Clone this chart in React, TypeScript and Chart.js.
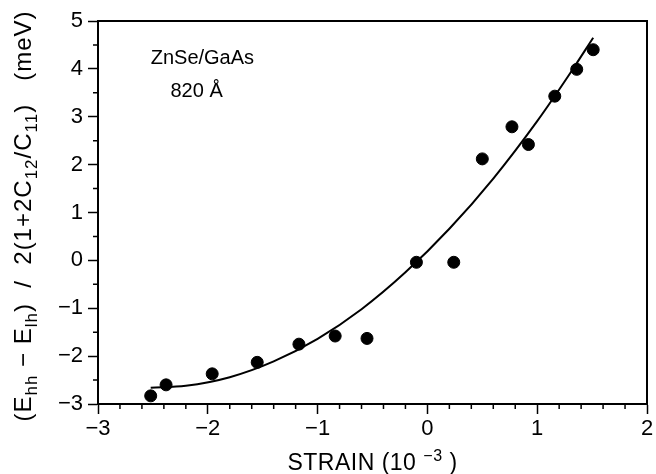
import React, { useEffect, useRef } from 'react';
import { Chart, registerables } from 'chart.js';

Chart.register(...registerables);

// measured data points (strain in 1e-3, energy in meV)
const strainValues = [-2.52, -2.38, -1.96, -1.55, -1.17, -0.84, -0.55, -0.10, 0.24, 0.50, 0.77, 0.92, 1.16, 1.36, 1.51];
const energyValues = [-2.83, -2.60, -2.37, -2.13, -1.75, -1.58, -1.63, -0.04, -0.04, 2.12, 2.79, 2.42, 3.43, 3.99, 4.40];

// fitted curve
const fitStrain = [-2.52, -2.2, -1.8, -1.4, -1.0, -0.6, -0.2, 0.2, 0.6, 1.0, 1.3, 1.51];
const fitEnergy = [-2.66, -2.62, -2.44, -2.11, -1.64, -1.02, -0.25, 0.66, 1.71, 2.91, 3.91, 4.65];

const xMin = -3;
const xMax = 2;
const yMin = -3;
const yMax = 5;

const sampleLabel = 'ZnSe/GaAs';
const thicknessLabel = '820 Å';

const FONT = '"Liberation Sans", Arial, Helvetica, sans-serif';

function fmt(v: number): string {
  return v < 0 ? '\u2212' + Math.abs(v) : String(v);
}

type Seg = { t: string; s?: 'sub' | 'sup' };

function drawSegs(ctx: CanvasRenderingContext2D, segs: Seg[], x: number, y: number, size: number, small: number, off: number) {
  let cx = x;
  for (const sg of segs) {
    ctx.font = `${sg.s ? small : size}px ${FONT}`;
    const dy = sg.s === 'sub' ? off : sg.s === 'sup' ? -off : 0;
    ctx.fillText(sg.t, cx, y + dy);
    cx += ctx.measureText(sg.t).width;
  }
}

function segsWidth(ctx: CanvasRenderingContext2D, segs: Seg[], size: number, small: number) {
  let w = 0;
  for (const sg of segs) {
    ctx.font = `${sg.s ? small : size}px ${FONT}`;
    w += ctx.measureText(sg.t).width;
  }
  return w;
}

const decorPlugin = {
  id: 'decor',
  afterDraw(chart: any) {
    const ctx: any = chart.ctx;
    const { left, right, top, bottom } = chart.chartArea;
    const xs = chart.scales.x;
    const ys = chart.scales.y;
    ctx.save();
    ctx.strokeStyle = '#000';
    ctx.fillStyle = '#000';
    // frame top & right
    ctx.lineWidth = 2;
    ctx.beginPath();
    ctx.moveTo(left - 1, top);
    ctx.lineTo(right, top);
    ctx.lineTo(right, bottom + 1);
    ctx.stroke();
    // minor ticks
    ctx.lineWidth = 1.5;
    ctx.beginPath();
    for (let i = 0; i <= (xMax - xMin) * 5; i++) {
      if (i % 5 === 0) continue;
      const px = xs.getPixelForValue(xMin + i * 0.2);
      ctx.moveTo(px, bottom);
      ctx.lineTo(px, bottom + 5);
    }
    for (let i = 0; i <= (yMax - yMin) * 2; i++) {
      if (i % 2 === 0) continue;
      const py = ys.getPixelForValue(yMin + i * 0.5);
      ctx.moveTo(left, py);
      ctx.lineTo(left - 5, py);
    }
    ctx.stroke();

    ctx.textBaseline = 'alphabetic';
    ctx.textAlign = 'left';

    // x title
    ctx.letterSpacing = '0.5px';
    const xSegs: Seg[] = [{ t: 'STRAIN (10 ' }, { t: '\u22123', s: 'sup' }, { t: ' )' }];
    const xw = segsWidth(ctx, xSegs, 23, 16);
    drawSegs(ctx, xSegs, (left + right) / 2 - xw / 2, 470, 23, 16, 9);

    // y title
    ctx.letterSpacing = '1px';
    const ySegs: Seg[] = [
      { t: '(E' }, { t: 'hh', s: 'sub' }, { t: ' \u2212 E' }, { t: 'lh', s: 'sub' },
      { t: ')  /  2(1+2C' }, { t: '12', s: 'sub' }, { t: '/C' }, { t: '11', s: 'sub' }, { t: ')   (meV)' },
    ];
    const yw = segsWidth(ctx, ySegs, 24, 17);
    ctx.save();
    ctx.translate(31, 216);
    ctx.rotate(-Math.PI / 2);
    drawSegs(ctx, ySegs, -yw / 2, 0, 24, 17, 6);
    ctx.restore();

    // annotations
    ctx.letterSpacing = '0px';
    ctx.font = `20px ${FONT}`;
    ctx.fillText(sampleLabel, xs.getPixelForValue(-2.52), ys.getPixelForValue(4.1));
    ctx.fillText(thicknessLabel, xs.getPixelForValue(-2.34), ys.getPixelForValue(3.42));
    ctx.restore();
  },
};

export default function App() {
  const ref = useRef<HTMLCanvasElement | null>(null);
  useEffect(() => {
    if (!ref.current) return;
    const chart = new Chart(ref.current, {
      type: 'scatter',
      data: {
        datasets: [
          {
            label: 'data',
            data: strainValues.map((x, i) => ({ x, y: energyValues[i] })),
            backgroundColor: '#000',
            borderColor: '#000',
            pointRadius: 6,
            pointHoverRadius: 6,
            showLine: false,
          },
          {
            label: 'fit',
            data: fitStrain.map((x, i) => ({ x, y: fitEnergy[i] })),
            borderColor: '#000',
            borderWidth: 2,
            pointRadius: 0,
            showLine: true,
            cubicInterpolationMode: 'monotone',
          } as any,
        ],
      },
      options: {
        animation: false,
        responsive: false,
        events: [],
        layout: { padding: { top: 21, right: 9, left: 0, bottom: 0 } },
        plugins: { legend: { display: false }, tooltip: { enabled: false } },
        scales: {
          x: {
            type: 'linear',
            min: xMin,
            max: xMax,
            afterFit: (s: any) => { s.height = 70; },
            ticks: {
              stepSize: 1,
              color: '#000',
              font: { size: 22, family: FONT },
              padding: 2,
              maxRotation: 0,
              callback: (v: any) => fmt(Number(v)),
            },
            grid: { drawOnChartArea: false, drawTicks: true, tickLength: 10, tickColor: '#000', tickWidth: 1.5 },
            border: { color: '#000', width: 2 },
          },
          y: {
            type: 'linear',
            min: yMin,
            max: yMax,
            afterFit: (s: any) => { s.width = 98; },
            ticks: {
              stepSize: 1,
              color: '#000',
              font: { size: 22, family: FONT },
              padding: 5,
              callback: (v: any) => fmt(Number(v)),
            },
            grid: { drawOnChartArea: false, drawTicks: true, tickLength: 10, tickColor: '#000', tickWidth: 1.5 },
            border: { color: '#000', width: 2 },
          },
        },
      },
      plugins: [decorPlugin],
    });
    return () => chart.destroy();
  }, []);
  return (
    <div style={{ position: 'fixed', left: 0, top: 0, width: 656, height: 474, background: '#fff' }}>
      <canvas ref={ref} width={656} height={474} />
    </div>
  );
}
